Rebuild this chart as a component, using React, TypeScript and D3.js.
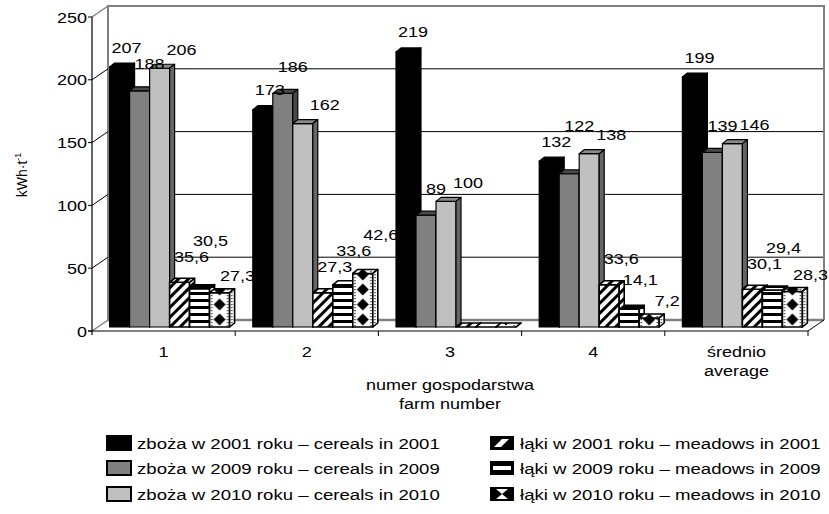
import React from "react";
import * as d3 from "d3";

// categories and series
const categories = ["1", "2", "3", "4", "średnio"];
const categoryLines = [["1"], ["2"], ["3"], ["4"], ["średnio", "average"]];
const seriesNames = [
  "zboża w 2001 roku – cereals in 2001",
  "zboża w 2009 roku – cereals in 2009",
  "zboża w 2010 roku – cereals in 2010",
  "łąki w 2001 roku – meadows in 2001",
  "łąki w 2009 roku – meadows in 2009",
  "łąki w 2010 roku – meadows in 2010",
];
const cereals2001 = [207, 173, 219, 132, 199];
const cereals2009 = [188, 186, 89, 122, 139];
const cereals2010 = [206, 162, 100, 138, 146];
const meadows2001 = [35.6, 27.3, 0, 33.6, 30.1];
const meadows2009 = [30.5, 33.6, 0, 14.1, 29.4];
const meadows2010 = [27.3, 42.6, 0, 7.2, 28.3];
const yTicks = [0, 50, 100, 150, 200, 250];
const xTitle = ["numer gospodarstwa", "farm number"];

const series = [cereals2001, cereals2009, cereals2010, meadows2001, meadows2009, meadows2010];

// look of each series: front / top / side
const looks = [
  { front: "#000", top: "#000", side: "#000" },
  { front: "#808080", top: "#4a4a4a", side: "#4a4a4a" },
  { front: "#c0c0c0", top: "#8a8a8a", side: "#666" },
  { front: "url(#diag)", top: "url(#diag)", side: "url(#diag)" },
  { front: "url(#horiz)", top: "url(#horiz)", side: "url(#horiz)" },
  { front: "diam", top: "diam", side: "diam" },
];
// where Excel put the value labels, relative to the bar top (per series)
const labelDx = [7, 10, 22, 12, 11, 18];
const labelUp = [20, 27, 19, 26, 30, 17];

const FONT = "'Liberation Sans', Arial, sans-serif";
const SX = 1.2; // the picture is stretched sideways

const T = ({ x, y, anchor = "middle", size = 15, children }: any) => (
  <text
    transform={`translate(${x},${y}) scale(${SX},1)`}
    textAnchor={anchor}
    fontSize={size}
    fontFamily={FONT}
    fill="#000"
  >
    {children}
  </text>
);

const fmt = (v: number) => (Number.isInteger(v) ? String(v) : String(v).replace(".", ","));
const textW = (s: string) => s.split("").reduce((a, c) => a + (c === "," ? 5 : 10), 0);

export default function App() {
  const X0 = 92, X1 = 808;
  const DX = 16, DY = -11; // wall depth
  const BW = 20, BDX = 5, BDY = -4; // bar width and depth
  const SHX = 6, SHY = -4; // bars stand a bit behind the front edge

  const x = d3.scaleBand<string>().domain(categories).range([X0, X1]);
  const y = d3.scaleLinear().domain([0, 250]).range([331, 17]);
  const inner = d3.scaleBand<number>().domain(d3.range(6)).range([0, 6 * BW]);

  const barX = (ci: number, si: number) =>
    (x(categories[ci]) as number) + (x.bandwidth() - 6 * BW) / 2 + SHX + (inner(si) as number);
  const yb = (v: number) => y(v) + SHY;
  const base = yb(0);

  const fillFor = (f: string, ci: number) => (f === "diam" ? `url(#diam${ci})` : f);

  const bars: any[] = [];
  const labels: any[] = [];
  categories.forEach((c, ci) => {
    const placed: { cx: number; cy: number; w: number }[] = [];
    series.forEach((s, si) => {
      const v = s[ci];
      const bx = barX(ci, si);
      const top = yb(v);
      const lk = looks[si];
      const sw = si >= 3 ? 1.6 : 1.2;
      bars.push(
        <g key={`b${ci}-${si}`} stroke="#000" strokeWidth={sw} strokeLinejoin="round">
          <rect x={bx} y={top} width={BW} height={base - top} fill={fillFor(lk.front, ci)} />
          <polygon
            points={`${bx},${top} ${bx + BDX},${top + BDY} ${bx + BW + BDX},${top + BDY} ${bx + BW},${top}`}
            fill={fillFor(lk.top, ci)}
          />
          <polygon
            points={`${bx + BW},${top} ${bx + BW + BDX},${top + BDY} ${bx + BW + BDX},${base + BDY} ${bx + BW},${base}`}
            fill={fillFor(lk.side, ci)}
          />
        </g>
      );
      if (v > 0) {
        const txt = fmt(v);
        const w = textW(txt);
        const cx = bx + BW / 2 + labelDx[si];
        let cy = top - labelUp[si];
        // push up past labels already placed in the group
        let moved = true;
        while (moved) {
          moved = false;
          for (const p of placed) {
            if (Math.abs(p.cx - cx) < (p.w + w) / 2 + 1 && Math.abs(p.cy - cy) < 16) {
              cy = p.cy - 16;
              moved = true;
            }
          }
        }
        placed.push({ cx, cy, w });
        labels.push(
          <T key={`l${ci}-${si}`} x={cx} y={cy + 5.5}>
            {txt}
          </T>
        );
      }
    });
  });

  const legendRows = [443, 468, 494];
  const legendCols = [
    { sx: 107, tx: 137 },
    { sx: 490, tx: 520 },
  ];

  const swatch = (i: number, sx: number, sy: number) => {
    const w = 24, h = 14;
    if (i < 3) {
      return <rect x={sx} y={sy} width={w} height={h} fill={looks[i].front} stroke="#000" strokeWidth={2} />;
    }
    if (i === 3) {
      return (
        <g>
          <rect x={sx} y={sy} width={w} height={h} fill="#000" />
          <polygon points={`${sx + 4},${sy + h - 3} ${sx + 12},${sy + 3} ${sx + 19},${sy + 3} ${sx + 11},${sy + h - 3}`} fill="#fff" />
        </g>
      );
    }
    if (i === 4) {
      return (
        <g>
          <rect x={sx} y={sy} width={w} height={h} fill="#000" />
          <rect x={sx + 3} y={sy + 5} width={w - 6} height={4} fill="#fff" />
        </g>
      );
    }
    return (
      <g>
        <rect x={sx} y={sy} width={w} height={h} fill="#000" />
        <polygon
          points={`${sx + 6},${sy + 2} ${sx + 18},${sy + 2} ${sx + 12},${sy + 7} ${sx + 18},${sy + 12} ${sx + 6},${sy + 12} ${sx + 12},${sy + 7}`}
          fill="#fff"
        />
      </g>
    );
  };

  return (
    <svg width={829} height={514} style={{ position: "absolute", left: 0, top: 0, background: "#fff" }}>
      <defs>
        <pattern id="diag" width={7} height={7} patternUnits="userSpaceOnUse" patternTransform="rotate(45)">
          <rect width={7} height={7} fill="#fff" />
          <rect width={3} height={7} fill="#000" />
        </pattern>
        <pattern id="horiz" width={8} height={7} y={base} patternUnits="userSpaceOnUse">
          <rect width={8} height={7} fill="#fff" />
          <rect y={0} width={8} height={3} fill="#000" />
        </pattern>
        {categories.map((c, ci) => (
          <pattern
            key={c}
            id={`diam${ci}`}
            width={BW}
            height={15}
            x={barX(ci, 5)}
            y={base}
            patternUnits="userSpaceOnUse"
          >
            <rect width={BW} height={15} fill="#fff" />
            <polygon points="10,1.5 16,7.5 10,13.5 4,7.5" fill="#000" />
            {[0, 3, 6, 9, 12].map((d) => (
              <g key={d}>
                <rect x={1.5} y={d + 1} width={1.2} height={1.2} fill="#000" />
                <rect x={17.5} y={d + 1} width={1.2} height={1.2} fill="#000" />
              </g>
            ))}
          </pattern>
        ))}
      </defs>

      {/* back wall */}
      <rect x={X0 + DX} y={y(250) + DY} width={X1 - X0} height={y(0) - y(250)} fill="#fff" />
      {yTicks
        .filter((t) => t > 0 && t < 250)
        .map((t) => (
          <line key={`g${t}`} x1={X0 + DX} x2={X1 + DX} y1={y(t) + DY} y2={y(t) + DY} stroke="#000" strokeWidth={1} />
        ))}
      <path
        d={`M${X0 + DX},${y(0) + DY} V${y(250) + DY} H${X1 + DX} V${y(0) + DY}`}
        fill="none"
        stroke="#808080"
        strokeWidth={2}
      />
      {/* left wall */}
      {yTicks.map((t) => (
        <line
          key={`lw${t}`}
          x1={X0}
          y1={y(t)}
          x2={X0 + DX}
          y2={y(t) + DY}
          stroke={t === 0 || t === 250 ? "#808080" : "#000"}
          strokeWidth={t === 0 || t === 250 ? 1.5 : 1}
        />
      ))}
      {/* floor */}
      <line x1={X0 + DX} x2={X1 + DX} y1={y(0) + DY} y2={y(0) + DY} stroke="#808080" strokeWidth={2.5} />
      <line x1={X1} y1={y(0)} x2={X1 + DX} y2={y(0) + DY} stroke="#000" strokeWidth={1} />

      {bars}

      {/* axes */}
      <line x1={X0} x2={X0} y1={y(250)} y2={y(0) + 4} stroke="#000" strokeWidth={1.2} />
      <line x1={X0 - 4} x2={X1} y1={y(0)} y2={y(0)} stroke="#000" strokeWidth={1.2} />
      {yTicks.map((t) => (
        <g key={`yt${t}`}>
          <line x1={X0 - 4} x2={X0} y1={y(t)} y2={y(t)} stroke="#000" strokeWidth={1} />
          <T x={X0 - 5} y={y(t) + 5.5} anchor="end">
            {t}
          </T>
        </g>
      ))}
      {categories.map((c) => (
        <line
          key={`xt${c}`}
          x1={(x(c) as number) + x.bandwidth()}
          x2={(x(c) as number) + x.bandwidth()}
          y1={y(0)}
          y2={y(0) + 5}
          stroke="#000"
          strokeWidth={1}
        />
      ))}
      {categories.map((c, ci) =>
        categoryLines[ci].map((ln, li) => (
          <T key={`xl${ci}-${li}`} x={(x(c) as number) + x.bandwidth() / 2} y={357 + li * 19}>
            {ln}
          </T>
        ))
      )}
      {xTitle.map((ln, li) => (
        <T key={`xti${li}`} x={(X0 + X1) / 2} y={390 + li * 19}>
          {ln}
        </T>
      ))}
      <text transform={`translate(27,175) rotate(-90)`} textAnchor="middle" fontSize={14} fontFamily={FONT}>
        kWh·t
        <tspan fontSize={9} dy={-6}>
          -1
        </tspan>
      </text>

      {labels}

      {/* legend */}
      {seriesNames.map((n, i) => {
        const col = legendCols[Math.floor(i / 3)];
        const cy = legendRows[i % 3];
        return (
          <g key={`lg${i}`}>
            {swatch(i, col.sx, cy - 7)}
            <T x={col.tx} y={cy + 5.5} anchor="start" size={15.5}>
              {n}
            </T>
          </g>
        );
      })}
    </svg>
  );
}
